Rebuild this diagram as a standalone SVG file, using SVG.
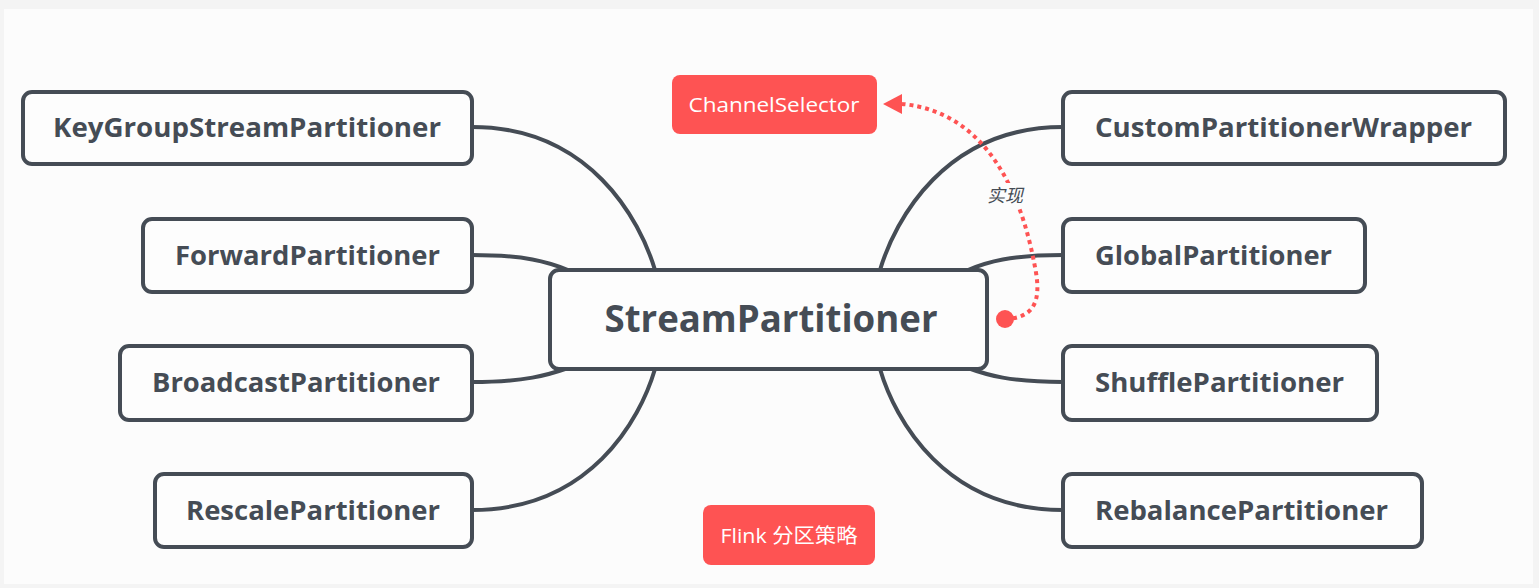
<svg xmlns="http://www.w3.org/2000/svg" width="1539" height="588" viewBox="0 0 1539 588">
<style>
.box{fill:#fdfdfd;stroke:#454c55;stroke-width:4}
.lbl{font-family:"Open Sans","Liberation Sans",sans-serif;font-weight:700;fill:#454c55;font-size:27px}
.big{font-size:38px}
.red{fill:#fe5353}
.wt{font-family:"Open Sans","Noto Sans CJK SC",sans-serif;fill:#ffffff;font-size:20px}
.conn{fill:none;stroke:#454c55;stroke-width:4;stroke-linecap:round}
</style>
<rect width="1539" height="588" fill="#f4f4f4"/>
<rect x="4" y="9" width="1529" height="575" fill="#fcfcfc"/>
<g id="connectors">
<path class="conn" d="M472,127 C590,127 640,220 655,270"/>
<path class="conn" d="M472,255 C525,255 548,262 568,270"/>
<path class="conn" d="M472,382 C525,382 548,375 568,368"/>
<path class="conn" d="M472,510 C590,510 640,420 655,369"/>
<path class="conn" d="M1063,127 C945,127 895,220 880,270"/>
<path class="conn" d="M1063,255 C1010,255 987,262 968,270"/>
<path class="conn" d="M1063,382 C1010,382 987,375 968,368"/>
<path class="conn" d="M1063,510 C945,510 895,420 880,369"/>
</g>
<g id="implements">
<path d="M1005,319 C1042,318 1040,290 1034,262 C1022,200 990,112 902,104" fill="none" stroke="#fe5353" stroke-width="4" stroke-dasharray="4 4"/>
<polygon points="883,104 902,94 902,114" fill="#fe5353"/>
<circle cx="1005" cy="319" r="9" fill="#fe5353"/>
<rect x="985" y="183" width="40" height="24" fill="#fcfcfc"/>
<text x="1005" y="202" text-anchor="middle" font-family="'Noto Sans CJK SC',sans-serif" font-style="italic" font-size="18" fill="#454c55">实现</text>
</g>
<g id="center">
<rect class="box" x="550" y="270" width="437" height="99" rx="9"/>
<text class="lbl big" x="771" y="332" text-anchor="middle" textLength="333" lengthAdjust="spacingAndGlyphs">StreamPartitioner</text>
</g>
<g id="n-keygroup">
<rect class="box" x="23" y="92" width="449" height="72" rx="9"/>
<text class="lbl" x="441" y="137" text-anchor="end" textLength="388" lengthAdjust="spacingAndGlyphs">KeyGroupStreamPartitioner</text>
</g>
<g id="n-forward">
<rect class="box" x="143" y="219" width="329" height="73" rx="9"/>
<text class="lbl" x="440" y="265" text-anchor="end" textLength="265" lengthAdjust="spacingAndGlyphs">ForwardPartitioner</text>
</g>
<g id="n-broadcast">
<rect class="box" x="120" y="346" width="352" height="74" rx="9"/>
<text class="lbl" x="440" y="392" text-anchor="end" textLength="288" lengthAdjust="spacingAndGlyphs">BroadcastPartitioner</text>
</g>
<g id="n-rescale">
<rect class="box" x="155" y="474" width="317" height="73" rx="9"/>
<text class="lbl" x="440" y="520" text-anchor="end" textLength="254" lengthAdjust="spacingAndGlyphs">RescalePartitioner</text>
</g>
<g id="n-custom">
<rect class="box" x="1063" y="92" width="442" height="72" rx="9"/>
<text class="lbl" x="1095" y="137" textLength="377" lengthAdjust="spacingAndGlyphs">CustomPartitionerWrapper</text>
</g>
<g id="n-global">
<rect class="box" x="1063" y="219" width="302" height="73" rx="9"/>
<text class="lbl" x="1095" y="265" textLength="237" lengthAdjust="spacingAndGlyphs">GlobalPartitioner</text>
</g>
<g id="n-shuffle">
<rect class="box" x="1063" y="346" width="314" height="74" rx="9"/>
<text class="lbl" x="1095" y="392" textLength="249" lengthAdjust="spacingAndGlyphs">ShufflePartitioner</text>
</g>
<g id="n-rebalance">
<rect class="box" x="1063" y="474" width="359" height="73" rx="9"/>
<text class="lbl" x="1095" y="520" textLength="293" lengthAdjust="spacingAndGlyphs">RebalancePartitioner</text>
</g>
<g id="n-channelselector">
<rect class="red" x="672" y="75" width="205" height="59" rx="8"/>
<text class="wt" x="774" y="112" text-anchor="middle" textLength="171" lengthAdjust="spacingAndGlyphs">ChannelSelector</text>
</g>
<g id="n-title">
<rect class="red" x="703" y="505" width="172" height="60" rx="8"/>
<text class="wt" x="789" y="543" text-anchor="middle" textLength="137" lengthAdjust="spacingAndGlyphs">Flink 分区策略</text>
</g>
</svg>
